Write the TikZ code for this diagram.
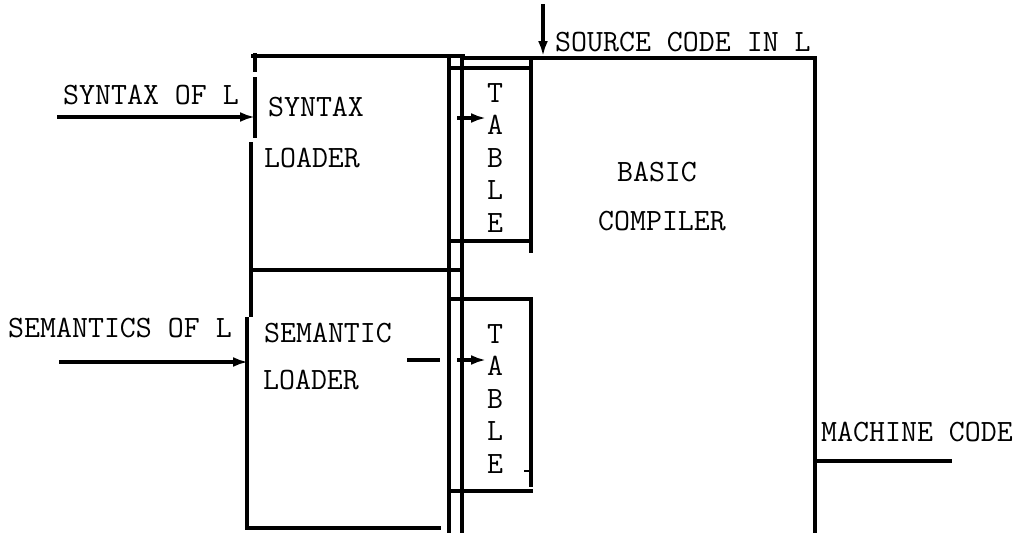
\documentclass[tikz,border=0pt]{standalone}
\usetikzlibrary{arrows.meta}
\begin{document}
\begin{tikzpicture}[x=1pt,y=-1pt,
  ln/.style={line width=3.2pt},
  thin/.style={line width=1.4pt},
  arr/.style={line width=3.2pt,-{Latex[length=15pt,width=10pt]}},
  lbl/.style={font=\ttfamily\fontsize{31}{32.5}\selectfont,inner sep=0pt},
  vert/.style={lbl,align=center}]
\useasboundingbox (0,0) rectangle (1017,533);
% coordinates
\coordinate (synIn) at (57,117);
\coordinate (synEnd) at (255,117);
\coordinate (semIn) at (59,362);
\coordinate (semEnd) at (248,362);
\coordinate (tabA1s) at (457,118);
\coordinate (tabA1e) at (486,118);
\coordinate (tabA2s) at (457,360);
\coordinate (tabA2e) at (486,360);
\coordinate (dashS) at (407,360);
\coordinate (dashE) at (440,360);
\coordinate (srcS) at (543,4);
\coordinate (srcE) at (543,56);
\coordinate (mcS) at (815,461);
\coordinate (mcE) at (952,461);
% syntax loader
\draw[ln] (251,56) -- (465,56);
\draw[ln] (255,53) -- (255,72);
\draw[ln] (255,77) -- (255,138);
\draw[ln] (251,142) -- (251,317);
\draw[ln] (252,270) -- (464,270);
% semantic loader
\draw[ln] (247,317) -- (247,528) -- (441,528);
% double vertical lines
\draw[ln] (449,57) -- (449,533);
\draw[ln] (462,57) -- (462,533);
% syntax table
\draw[ln] (449,68) -- (531,68);
\draw[ln] (531,57) -- (531,253);
\draw[ln] (449,241) -- (531,241);
% semantic table
\draw[ln] (449,299) -- (531,299) -- (531,487);
\draw[ln] (447,491) -- (533,491);
\draw[thin] (524,471) -- (529,471);
% compiler
\draw[ln] (460,58) -- (815,58) -- (815,533);
% arrows
\draw[arr] (synIn) -- (synEnd);
\draw[arr] (semIn) -- (semEnd);
\draw[arr] (tabA1s) -- (tabA1e);
\draw[arr] (tabA2s) -- (tabA2e);
\draw[ln] (dashS) -- (dashE);
\draw[arr] (srcS) -- (srcE);
\draw[ln] (mcS) -- (mcE);
% labels
\node[lbl] (synof) at (151,95) {SYNTAX OF L};
\node[lbl] (semof) at (120,328) {SEMANTICS OF L};
\node[lbl] (syn) at (316,107) {SYNTAX};
\node[lbl] (synld) at (312,158) {LOADER};
\node[lbl] (sem) at (328,333) {SEMANTIC};
\node[lbl] (semld) at (311,380) {LOADER};
\node[vert] (tab1) at (495,158) {T\\A\\B\\L\\E};
\node[vert] (tab2) at (495,399) {T\\A\\B\\L\\E};
\node[lbl,anchor=west] (src) at (555,42) {SOURCE CODE IN L};
\node[lbl] (basic) at (657,172) {BASIC};
\node[lbl] (comp) at (662,221) {COMPILER};
\node[lbl,anchor=west] (mc) at (821,432) {MACHINE CODE};
\end{tikzpicture}
\end{document}
